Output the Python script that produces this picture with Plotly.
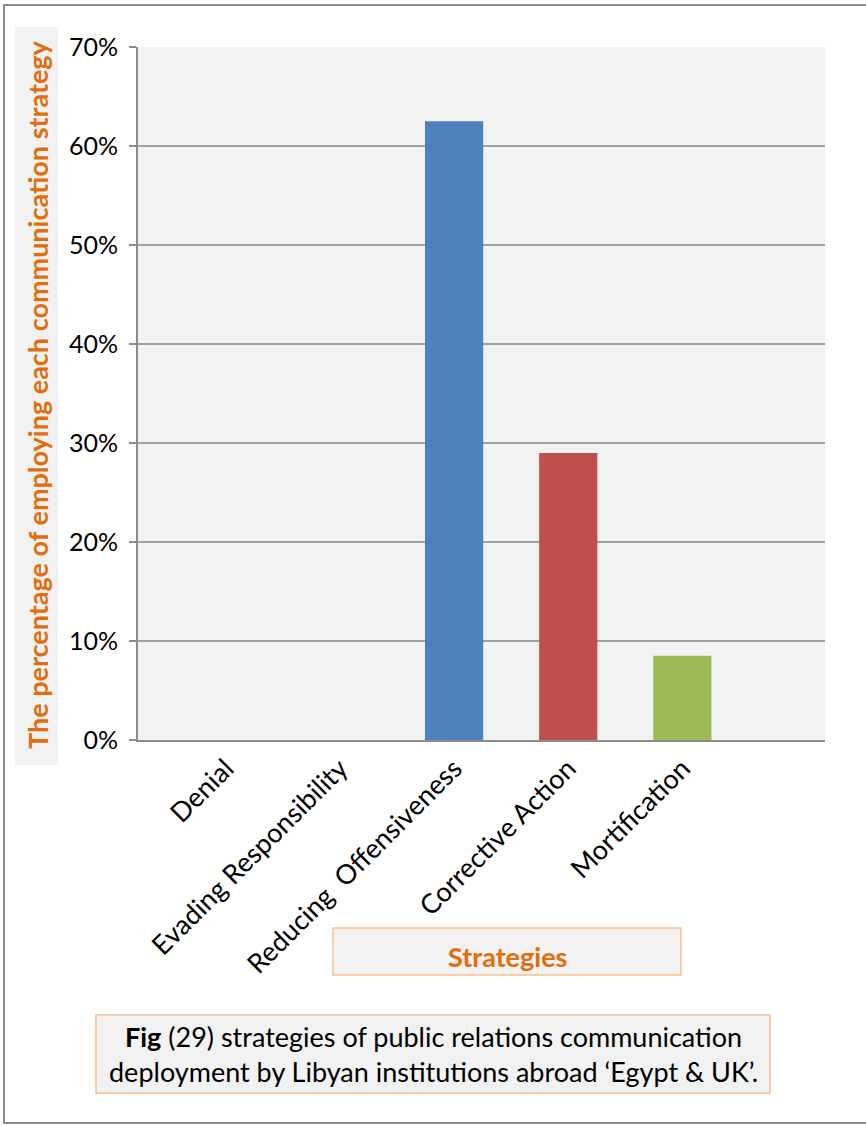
import plotly.graph_objects as go

# Strategy categories and share of use (%)
strategies = ["Denial", "Evading Responsibility", "Reducing  Offensiveness",
              "Corrective Action", "Mortification"]
shares = [0.0, 0.0, 62.5, 29.0, 8.5]
bar_colors = ["#4F81BD", "#4F81BD", "#4F81BD", "#C0504D", "#9BBB59"]
y_ticks = [0, 10, 20, 30, 40, 50, 60, 70]
y_tick_text = ["0%", "10%", "20%", "30%", "40%", "50%", "60%", "70%"]

W, H = 866, 1126
L, R, T, B = 138, 825, 47, 740   # plot area edges in pixels


def px(x):
    return (x - L) / (R - L)


def py(y):
    return (B - y) / (B - T)


FONT = "Lato, 'Open Sans', sans-serif"
ORANGE = "#E46C0A"

fig = go.Figure(
    go.Bar(
        x=strategies,
        y=shares,
        marker=dict(color=bar_colors, line=dict(width=0)),
        width=0.51,
        hoverinfo="x+y",
    )
)

fig.update_layout(
    width=W,
    height=H,
    margin=dict(l=L, r=W - R, t=T, b=H - B, pad=0),
    paper_bgcolor="white",
    plot_bgcolor="#F2F2F2",
    showlegend=False,
    font=dict(family=FONT, size=25, color="#000000"),
    xaxis=dict(
        type="category",
        range=[-0.77, 5.25],
        tickangle=-45,
        showgrid=False,
        showline=True,
        linecolor="#8C8C8C",
        linewidth=2,
        ticks="",
        tickfont=dict(family=FONT, size=27, color="#000000"),
        fixedrange=True,
    ),
    yaxis=dict(
        range=[0, 70],
        tickvals=y_ticks,
        ticktext=y_tick_text,
        showgrid=True,
        gridcolor="#A0A0A0",
        gridwidth=2,
        showline=True,
        linecolor="#8C8C8C",
        linewidth=2,
        ticks="outside",
        ticklen=7,
        tickwidth=2,
        tickcolor="#8C8C8C",
        ticklabelstandoff=6,
        zeroline=False,
        tickfont=dict(family=FONT, size=25, color="#000000"),
        fixedrange=True,
    ),
)


def box(x0, y0, x1, y1, fill, line_color=None, line_width=0):
    fig.add_shape(
        type="rect", xref="paper", yref="paper",
        x0=px(x0), x1=px(x1), y0=py(y1), y1=py(y0),
        fillcolor=fill,
        line=dict(color=line_color or "rgba(0,0,0,0)", width=line_width),
        layer="below",
    )


# outer frame
box(4, 5, 872, 1123, "rgba(0,0,0,0)", "#8C8C8C", 2)
# axis title backgrounds and caption frame
box(15, 27, 58, 765, "#F2F2F2")
box(333, 928, 681, 975, "#F2F2F2", "#FAC090", 1.5)
box(96, 1015, 770, 1093, "#F2F2F2", "#FAC090", 1.5)

fig.add_annotation(
    xref="paper", yref="paper", x=px(37), y=py(395),
    text="<b>The percentage of employing each communication strategy</b>",
    textangle=-90, showarrow=False, xanchor="center", yanchor="middle",
    font=dict(family=FONT, size=27, color=ORANGE),
)
fig.add_annotation(
    xref="paper", yref="paper", x=px(507), y=py(956),
    text="<b>Strategies</b>", showarrow=False,
    xanchor="center", yanchor="middle",
    font=dict(family=FONT, size=27, color=ORANGE),
)
fig.add_annotation(
    xref="paper", yref="paper", x=px(433), y=py(1054),
    text="<b>Fig</b> (29) strategies of public relations communication<br>"
         "deployment by Libyan institutions abroad ‘Egypt &amp; UK’.",
    showarrow=False, xanchor="center", yanchor="middle", align="center",
    font=dict(family=FONT, size=27, color="#000000"),
)

fig.write_html("out.html")
